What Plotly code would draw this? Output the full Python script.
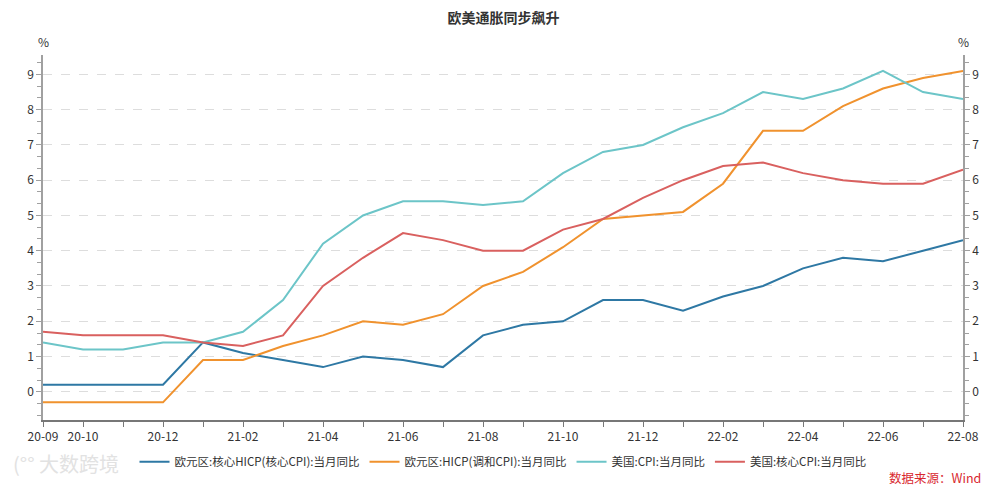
import plotly.graph_objects as go

months = ["20-09", "20-10", "20-11", "20-12", "21-01", "21-02", "21-03", "21-04",
          "21-05", "21-06", "21-07", "21-08", "21-09", "21-10", "21-11", "21-12",
          "22-01", "22-02", "22-03", "22-04", "22-05", "22-06", "22-07", "22-08"]
tick_labels = ["20-09", "20-10", "", "20-12", "", "21-02", "", "21-04", "", "21-06", "",
               "21-08", "", "21-10", "", "21-12", "", "22-02", "", "22-04", "", "22-06",
               "", "22-08"]

ez_core = [0.2, 0.2, 0.2, 0.2, 1.4, 1.1, 0.9, 0.7, 1.0, 0.9, 0.7, 1.6,
           1.9, 2.0, 2.6, 2.6, 2.3, 2.7, 3.0, 3.5, 3.8, 3.7, 4.0, 4.3]
ez_hicp = [-0.3, -0.3, -0.3, -0.3, 0.9, 0.9, 1.3, 1.6, 2.0, 1.9, 2.2, 3.0,
           3.4, 4.1, 4.9, 5.0, 5.1, 5.9, 7.4, 7.4, 8.1, 8.6, 8.9, 9.1]
us_cpi = [1.4, 1.2, 1.2, 1.4, 1.4, 1.7, 2.6, 4.2, 5.0, 5.4, 5.4, 5.3,
          5.4, 6.2, 6.8, 7.0, 7.5, 7.9, 8.5, 8.3, 8.6, 9.1, 8.5, 8.3]
us_core = [1.7, 1.6, 1.6, 1.6, 1.4, 1.3, 1.6, 3.0, 3.8, 4.5, 4.3, 4.0,
           4.0, 4.6, 4.9, 5.5, 6.0, 6.4, 6.5, 6.2, 6.0, 5.9, 5.9, 6.3]

series = [
    ("欧元区:核心HICP(核心CPI):当月同比", ez_core, "#2e78a4"),
    ("欧元区:HICP(调和CPI):当月同比", ez_hicp, "#f0922e"),
    ("美国:CPI:当月同比", us_cpi, "#6cc5c8"),
    ("美国:核心CPI:当月同比", us_core, "#d9605f"),
]

FONT = "Noto Sans CJK SC"
fig = go.Figure()
for name, vals, color in series:
    fig.add_trace(go.Scatter(x=months, y=vals, name=name, mode="lines",
                             line=dict(color=color, width=2)))
# invisible trace to anchor the right axis
fig.add_trace(go.Scatter(x=months, y=us_cpi, yaxis="y2", mode="lines",
                         line=dict(width=0), opacity=0, showlegend=False, hoverinfo="skip"))

yr = [-0.8, 9.55]
yax = dict(range=yr, tickvals=list(range(0, 10)), showgrid=True, automargin=False,
           gridcolor="#dddddd", griddash="dash", gridwidth=1,
           zeroline=False, showline=True, linecolor="#a0a0a0", linewidth=1.5,
           ticks="outside", ticklen=5, tickcolor="#a0a0a0",
           minor=dict(dtick=1/3, tick0=0, ticks="outside", ticklen=4, tickcolor="#a0a0a0", showgrid=False),
           tickfont=dict(size=12, color="#333333", family=FONT))

fig.update_layout(
    width=991, height=479,
    margin=dict(l=35, r=36, t=47, b=66),
    paper_bgcolor="white", plot_bgcolor="white",
    font=dict(family=FONT, color="#333333"),
    title=dict(text="<b>欧美通胀同步飙升</b>", x=0.5, xanchor="center", y=0.979, yanchor="middle",
               font=dict(size=14, color="#333333", family=FONT)),
    xaxis=dict(type="category", range=[0, 23], tickvals=months, ticktext=tick_labels,
               showgrid=False, showline=True, linecolor="#777777", linewidth=1.5, automargin=False,
               ticks="outside", ticklen=5, tickcolor="#777777",
               tickfont=dict(size=12, color="#333333", family=FONT), tickangle=0),
    yaxis=yax,
    yaxis2=dict(yax, overlaying="y", side="right", showgrid=False),
    legend=dict(orientation="h", x=0.5, xanchor="center", y=-0.072, yanchor="top",
                font=dict(size=11.5, color="#333333", family=FONT), itemwidth=30,
                tracegroupgap=0),
    showlegend=True,
)
fig.add_annotation(text="%", xref="paper", yref="paper", x=0, y=1.038, showarrow=False,
                   xanchor="center", yanchor="middle", font=dict(size=12, color="#333333", family=FONT))
fig.add_annotation(text="%", xref="paper", yref="paper", x=1, y=1.038, showarrow=False,
                   xanchor="center", yanchor="middle", font=dict(size=12, color="#333333", family=FONT))
fig.add_annotation(text="数据来源：Wind", xref="paper", yref="paper", x=1.022, y=-0.126,
                   showarrow=False, xanchor="right", yanchor="top",
                   font=dict(size=12.5, color="#d9282f", family=FONT))
fig.add_annotation(text="(°° 大数跨境", xref="paper", yref="paper", x=-0.035, y=-0.075,
                   showarrow=False, xanchor="left", yanchor="top",
                   font=dict(size=20, color="#e2e2e2", family=FONT))

fig.write_html("out.html")
